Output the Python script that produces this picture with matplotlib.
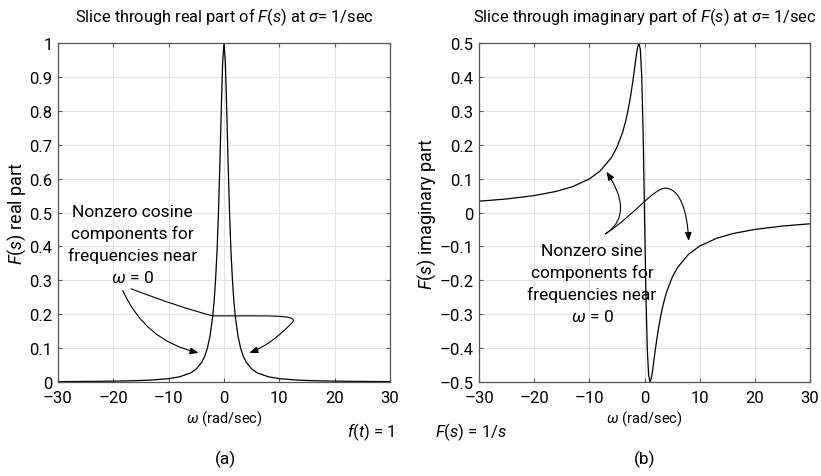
import matplotlib
matplotlib.use("Agg")
import matplotlib.pyplot as plt
from matplotlib.path import Path
from matplotlib.patches import FancyArrowPatch

plt.rcParams['font.family'] = ['Roboto', 'DejaVu Sans']
plt.rcParams['mathtext.fontset'] = 'custom'
plt.rcParams['mathtext.rm'] = 'Roboto'
plt.rcParams['mathtext.it'] = 'Roboto:italic'

omega = [-30, -25, -20, -16, -13, -10, -8, -6, -5, -4, -3.5, -3, -2.5, -2, -1.75, -1.5,
         -1.25, -1, -0.75, -0.5, -0.25, 0, 0.25, 0.5, 0.75, 1, 1.25, 1.5, 1.75, 2, 2.5,
         3, 3.5, 4, 5, 6, 8, 10, 13, 16, 20, 25, 30]
real_part = [0.0011, 0.0016, 0.0025, 0.0039, 0.0059, 0.0099, 0.0154, 0.027, 0.0385, 0.0588,
             0.0755, 0.1, 0.138, 0.2, 0.246, 0.308, 0.39, 0.5, 0.64, 0.8, 0.941, 1.0,
             0.941, 0.8, 0.64, 0.5, 0.39, 0.308, 0.246, 0.2, 0.138, 0.1, 0.0755, 0.0588,
             0.0385, 0.027, 0.0154, 0.0099, 0.0059, 0.0039, 0.0025, 0.0016, 0.0011]
imag_part = [0.0333, 0.0399, 0.0499, 0.0623, 0.0765, 0.099, 0.123, 0.162, 0.192, 0.235,
             0.264, 0.3, 0.345, 0.4, 0.431, 0.462, 0.488, 0.5, 0.48, 0.4, 0.235, 0.0,
             -0.235, -0.4, -0.48, -0.5, -0.488, -0.462, -0.431, -0.4, -0.345, -0.3, -0.264,
             -0.235, -0.192, -0.162, -0.123, -0.099, -0.0765, -0.0623, -0.0499, -0.0399, -0.0333]

xticks = [-30, -20, -10, 0, 10, 20, 30]
yticks_a = [0, 0.1, 0.2, 0.3, 0.4, 0.5, 0.6, 0.7, 0.8, 0.9, 1]
yticks_b = [-0.5, -0.4, -0.3, -0.2, -0.1, 0, 0.1, 0.2, 0.3, 0.4, 0.5]

def fmt(v):
    s = ('%g' % v)
    return s.replace('-', '\u2013')

W, H = 821, 477
fig = plt.figure(figsize=(W / 100, H / 100), dpi=100)
axa = fig.add_axes([58 / W, 1 - 383 / H, 332 / W, 339 / H])
axb = fig.add_axes([479 / W, 1 - 383 / H, 331 / W, 339 / H])

for ax, y, yt, ylab, title in [
        (axa, real_part, yticks_a, r'$\mathit{F}$($\mathit{s}$) real part',
         r'Slice through real part of $\mathit{F}$($\mathit{s}$) at $\mathit{\sigma}$= 1/sec'),
        (axb, imag_part, yticks_b, r'$\mathit{F}$($\mathit{s}$) imaginary part',
         r'Slice through imaginary part of $\mathit{F}$($\mathit{s}$) at $\mathit{\sigma}$= 1/sec')]:
    ax.plot(omega, y, color='black', lw=0.9)
    ax.set_xlim(-30, 30)
    ax.set_ylim(yt[0], yt[-1])
    ax.set_xticks(xticks)
    ax.set_xticklabels([fmt(v) for v in xticks], fontsize=12)
    ax.set_yticks(yt)
    ax.set_yticklabels([fmt(v) for v in yt], fontsize=12)
    ax.grid(True, color='#e3e3e3', lw=0.8)
    ax.set_axisbelow(True)
    ax.tick_params(direction='in', length=3, color='#555555', top=True, right=True)
    ax.tick_params(axis='x', pad=6)
    ax.tick_params(axis='y', pad=4)
    for s in ax.spines.values():
        s.set_color('#555555')
        s.set_linewidth(0.9)
    ax.set_xlabel(r'$\mathit{\omega}$ (rad/sec)', fontsize=10.5, labelpad=2)
    ax.set_ylabel(ylab, fontsize=13, labelpad=1)
    ax.set_title(title, fontsize=11.8, pad=16)

arrow_kw = dict(arrowstyle='-|>,head_length=5,head_width=2', color='black',
                lw=0.8, shrinkA=0, shrinkB=0)

# annotations panel (a)
axa.text(-16.5, 0.525, 'Nonzero cosine\ncomponents for\nfrequencies near\n$\\mathit{\\omega}$ = 0',
         ha='center', va='top', fontsize=12.5, linespacing=1.45)
axa.add_patch(FancyArrowPatch((-18.3, 0.27), (-4.6, 0.086), connectionstyle='arc3,rad=0.25',
                              **arrow_kw))
p2 = Path([(-16.8, 0.275), (-8, 0.22), (-2, 0.195), (6, 0.195),
           (12, 0.195), (13.5, 0.19), (12, 0.17), (8.5, 0.11), (4.6, 0.086)],
          [Path.MOVETO, Path.CURVE3, Path.CURVE3, Path.LINETO,
           Path.CURVE4, Path.CURVE4, Path.CURVE4, Path.CURVE3, Path.CURVE3])
axa.add_patch(FancyArrowPatch(path=p2, **arrow_kw))

# annotations panel (b)
axb.text(-9.5, -0.09, 'Nonzero sine\ncomponents for\nfrequencies near\n$\\mathit{\\omega}$ = 0',
         ha='center', va='top', fontsize=12.5, linespacing=1.45)
p3 = Path([(-7.1, -0.063), (-3.0, -0.02), (-4.0, 0.05), (-6.9, 0.12)],
          [Path.MOVETO, Path.CURVE4, Path.CURVE4, Path.CURVE4])
axb.add_patch(FancyArrowPatch(path=p3, **arrow_kw))
p4 = Path([(-7.1, -0.063), (-2, -0.01), (1.5, 0.07), (3.8, 0.072),
           (6.5, 0.07), (7.8, 0.0), (8.0, -0.084)],
          [Path.MOVETO, Path.CURVE4, Path.CURVE4, Path.CURVE4,
           Path.CURVE4, Path.CURVE4, Path.CURVE4])
axb.add_patch(FancyArrowPatch(path=p4, **arrow_kw))

fig.text(371 / W, 1 - 432 / H, r'$\mathit{f}$($\mathit{t}$) = 1', ha='center', va='center', fontsize=12)
fig.text(471 / W, 1 - 432 / H, r'$\mathit{F}$($\mathit{s}$) = 1/$\mathit{s}$', ha='center', va='center', fontsize=12)
fig.text(225 / W, 1 - 459 / H, '(a)', ha='center', va='center', fontsize=12.5)
fig.text(645 / W, 1 - 459 / H, '(b)', ha='center', va='center', fontsize=12.5)

fig.savefig('out.png', dpi=100)
